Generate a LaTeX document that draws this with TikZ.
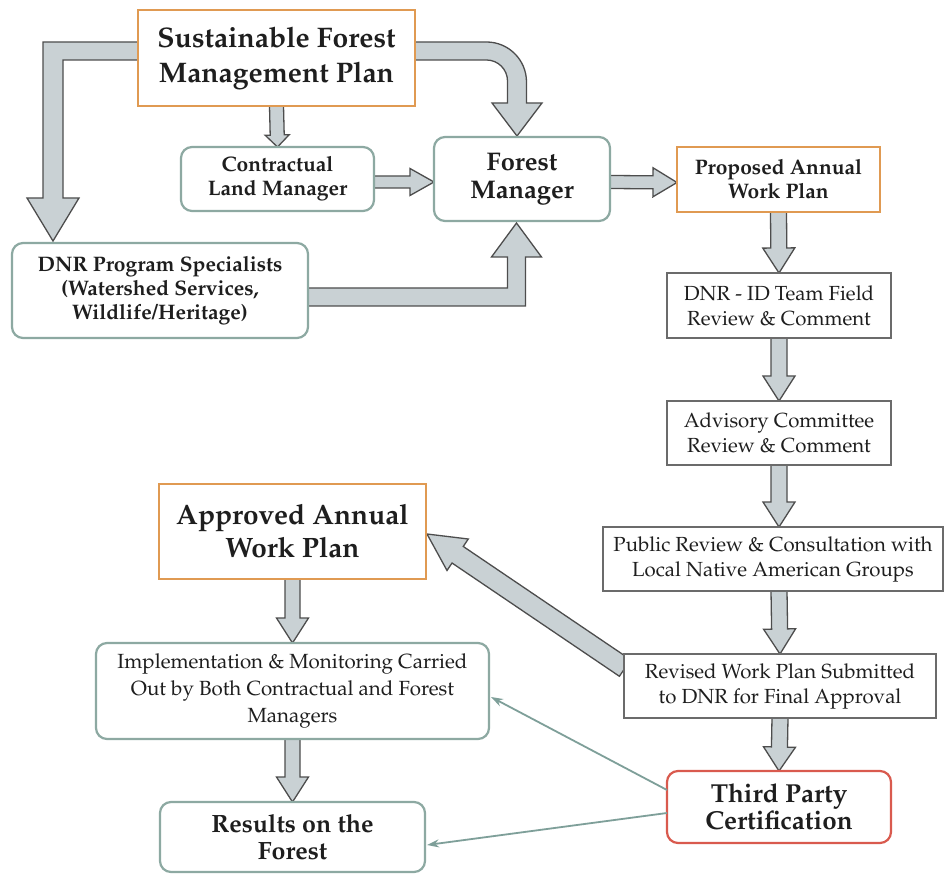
\documentclass[tikz,border=0pt]{standalone}
\IfFileExists{t1ppl.fd}{\usepackage[T1]{fontenc}\renewcommand\rmdefault{ppl}}{}
\usetikzlibrary{calc,arrows.meta}
\definecolor{arrfill}{HTML}{C9D1D4}
\definecolor{arrline}{HTML}{4D4D4D}
\definecolor{orangeb}{HTML}{E09A52}
\definecolor{tealb}{HTML}{8DA9A2}
\definecolor{greyb}{HTML}{6B6B6B}
\definecolor{redb}{HTML}{D95A4E}
\definecolor{txt}{HTML}{1E1E1E}
\definecolor{thinc}{HTML}{7E9F99}
\pgfdeclarelayer{paper}
\pgfdeclarelayer{bg}
\pgfsetlayers{paper,bg,main}
\tikzset{
  box/.style={fill=white, text=txt, align=center, inner sep=2pt, outer sep=0pt},
  obox/.style={box, draw=orangeb, line width=2pt},
  rbox/.style={box, draw=tealb, line width=2.2pt, rounded corners=11pt},
  gbox/.style={box, draw=greyb, line width=1.8pt},
  redbox/.style={box, draw=redb, line width=2.2pt, rounded corners=11pt},
  blk/.style={fill=arrfill, draw=arrline, line width=1.3pt, line join=miter},
  thinarr/.style={draw=thinc, line width=1.8pt, -{Stealth[length=12pt,width=8pt]}},
  fbig/.style={font=\fontsize{28.3}{35}\selectfont\bfseries},
  fmid/.style={font=\fontsize{25.5}{28}\selectfont\bfseries},
  fsmall/.style={font=\fontsize{21}{24}\selectfont\bfseries},
  freg/.style={font=\fontsize{20.4}{25}\selectfont},
  fregb/.style={font=\fontsize{20.5}{27}\selectfont},
}
\newcommand\blockarr[5]{%
  \coordinate (ba-s) at (#1);
  \coordinate (ba-t) at (#2);
  \coordinate (ba-b) at ($(ba-t)!#5!(ba-s)$);
  \draw[blk] ($(ba-s)!#3!90:(ba-t)$) -- ($(ba-b)!#3!90:(ba-t)$) -- ($(ba-b)!#4!90:(ba-t)$) -- (ba-t)
    -- ($(ba-b)!#4!-90:(ba-t)$) -- ($(ba-b)!#3!-90:(ba-t)$) -- ($(ba-s)!#3!-90:(ba-t)$) -- cycle;}
\begin{document}
\begin{tikzpicture}[x=1pt,y=-1pt]
\begin{pgfonlayer}{paper}
\fill[white] (0,0) rectangle (945,874);
\end{pgfonlayer}
\useasboundingbox (0,0) rectangle (945,874);

% nodes
\node[obox,fbig,minimum width=277pt,minimum height=96pt] (sfmp) at (276.5,58) {Sustainable Forest\\Management Plan};
\node[rbox,fsmall,minimum width=193pt,minimum height=64pt] (clm) at (277.5,179) {Contractual\\Land Manager};
\node[rbox,fmid,minimum width=176pt,minimum height=84pt] (fm) at (522,179) {Forest\\Manager};
\node[obox,fsmall,minimum width=203pt,minimum height=65pt] (paw) at (778.5,179.5) {Proposed Annual\\Work Plan};
\node[rbox,fsmall,minimum width=296pt,minimum height=95pt] (dnr) at (160,290.5) {DNR Program Specialists\\(Watershed Services,\\Wildlife/Heritage)};
\node[gbox,freg,minimum width=224pt,minimum height=65pt] (idt) at (779,305.5) {DNR - ID Team Field\\Review \& Comment};
\node[gbox,freg,minimum width=224pt,minimum height=64pt] (adv) at (779,433) {Advisory Committee\\Review \& Comment};
\node[gbox,freg,minimum width=340pt,minimum height=64pt] (pub) at (773,559) {Public Review \& Consultation with\\Local Native American Groups};
\node[gbox,freg,minimum width=312pt,minimum height=64pt] (rev) at (780,686) {Revised Work Plan Submitted\\to DNR for Final Approval};
\node[redbox,fmid,font=\fontsize{26}{27.5}\selectfont\bfseries,minimum width=224pt,minimum height=72pt] (tpc) at (779,807) {Third Party\\Certification};
\node[obox,fbig,font=\fontsize{28}{33}\selectfont\bfseries,minimum width=267pt,minimum height=95pt] (apw) at (292.5,531.5) {Approved Annual\\Work Plan};
\node[rbox,fregb,minimum width=393pt,minimum height=96pt] (imp) at (292.5,691) {Implementation \& Monitoring Carried\\Out by Both Contractual and Forest\\Managers};
\node[rbox,fmid,font=\fontsize{25}{27}\selectfont\bfseries,minimum width=265pt,minimum height=70pt] (res) at (292.5,837) {Results on the\\Forest};

\begin{pgfonlayer}{bg}
% elbow: SFMP -> DNR specialists
\coordinate (eL1) at ($(sfmp.west)+(0,-7)$);
\coordinate (eL2) at ($(dnr.north west)+(41,-2)$);
\draw[blk] let \p1=(eL1), \p2=(eL2) in
  (\x1,\y1+9pt) -- (\x2-10pt,\y1+9pt) -- (\x2-10pt,\y2+43pt) -- (\x2-26pt,\y2+43pt) -- (\x2,\y2)
  -- (\x2+26pt,\y2+43pt) -- (\x2+10pt,\y2+43pt) -- (\x2+10pt,\y1-9pt) -- (\x1,\y1-9pt) -- cycle;
% elbow: SFMP -> Forest Manager (rounded)
\coordinate (eR1) at ($(sfmp.east)+(0,-7)$);
\coordinate (eR2) at ($(fm.north)+(-5,-1)$);
\draw[blk] let \p1=(eR1), \p2=(eR2) in
  (\x1,\y1+9pt) -- (\x2+9.5pt-40pt,\y1+9pt) arc[start angle=90,end angle=0,radius=40pt]
  -- (\x2+9.5pt,\y2+33pt) -- (\x2+25pt,\y2+33pt) -- (\x2,\y2) -- (\x2-25pt,\y2+33pt) -- (\x2-9.5pt,\y2+33pt)
  -- (\x2-9.5pt,\y1-9pt-21pt) arc[start angle=0,end angle=90,radius=21pt]
  -- (\x1,\y1-9pt) -- cycle;
% elbow: DNR specialists -> Forest Manager
\coordinate (eD1) at ($(dnr.east)+(0,6.5)$);
\coordinate (eD2) at ($(fm.south)+(-5.5,2)$);
\draw[blk] let \p1=(eD1), \p2=(eD2) in
  (\x1,\y1+9pt) -- (\x2-9pt,\y1+9pt) -- (\x2-9pt,\y2-34pt) -- (\x2-25pt,\y2-34pt) -- (\x2,\y2)
  -- (\x2+25pt,\y2-34pt) -- (\x2+9pt,\y2-34pt) -- (\x2+9pt,\y1-9pt) -- (\x1,\y1-9pt) -- cycle;
% straight block arrows
\blockarr{sfmp.south}{clm.north}{7pt}{12pt}{12pt}
\coordinate (c1) at ($(clm.east)+(0,3)$);
\coordinate (c2) at ($(fm.west)+(0,3)$);
\blockarr{c1}{c2}{6pt}{13.5pt}{24pt}
\coordinate (c3) at ($(fm.east)+(0,3)$);
\coordinate (c4) at ($(paw.west)+(0,3)$);
\blockarr{c3}{c4}{6.5pt}{14.5pt}{24pt}
\blockarr{paw.south}{idt.north}{8pt}{16pt}{25pt}
\blockarr{idt.south}{adv.north}{8pt}{16pt}{25pt}
\coordinate (c5) at (adv.south |- pub.north);
\blockarr{adv.south}{c5}{8pt}{16pt}{25pt}
\coordinate (c6) at (adv.south |- pub.south);
\blockarr{c6}{rev.north}{8pt}{16pt}{25pt}
\blockarr{rev.south}{tpc.north}{8pt}{16pt}{24pt}
\blockarr{apw.south}{imp.north}{7.5pt}{16pt}{25pt}
\blockarr{imp.south}{res.north}{7.5pt}{16pt}{25pt}
\coordinate (c7) at ($(rev.west)+(1,-18)$);
\coordinate (c8) at ($(apw.east)+(1,2.5)$);
\blockarr{c7}{c8}{10pt}{19pt}{37pt}
\end{pgfonlayer}

% thin arrows
\draw[thinarr] ($(tpc.west)+(0,-17)$) -- ($(imp.east)+(2,6)$);
\draw[thinarr] ($(tpc.west)+(0,6)$) -- ($(res.east)+(2,8)$);
\end{tikzpicture}
\end{document}
